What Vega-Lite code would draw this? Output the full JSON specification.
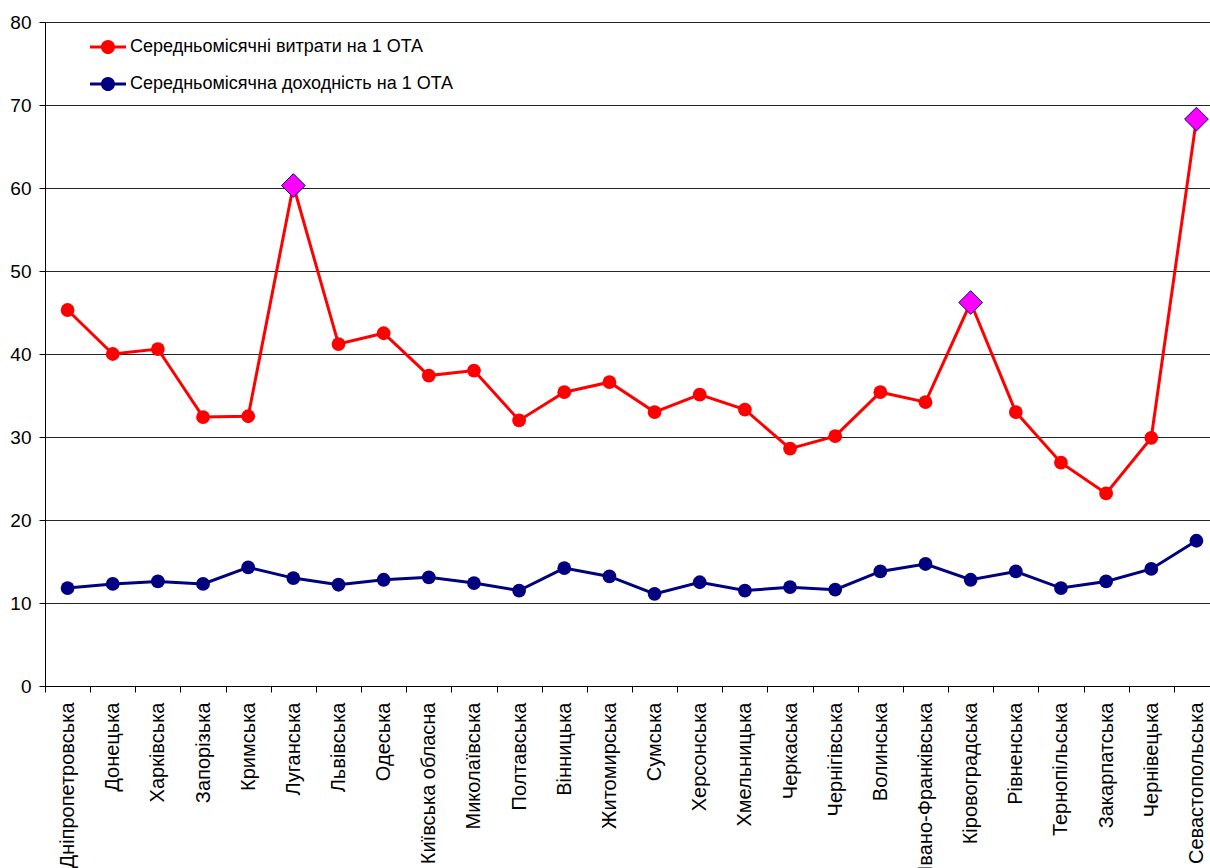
{
  "$schema": "https://vega.github.io/schema/vega-lite/v6.json",
  "autosize": {"type": "none"},
  "padding": {"left": 45, "top": 22, "right": 0, "bottom": 182},
  "width": 1174,
  "height": 664,
  "background": "white",
  "config": {
    "font": "Liberation Sans",
    "view": {"stroke": null},
    "axis": {"labelFont": "Liberation Sans", "labelColor": "#000000", "domainColor": "#000000", "tickColor": "#000000"}
  },
  "data": {
    "values": [
      {"region": "Дніпропетровська", "series": "Середньомісячні витрати на 1 ОТА", "value": 45.3},
      {"region": "Донецька", "series": "Середньомісячні витрати на 1 ОТА", "value": 40.0},
      {"region": "Харківська", "series": "Середньомісячні витрати на 1 ОТА", "value": 40.6},
      {"region": "Запорізька", "series": "Середньомісячні витрати на 1 ОТА", "value": 32.4},
      {"region": "Кримська", "series": "Середньомісячні витрати на 1 ОТА", "value": 32.5},
      {"region": "Луганська", "series": "Середньомісячні витрати на 1 ОТА", "value": 60.3},
      {"region": "Львівська", "series": "Середньомісячні витрати на 1 ОТА", "value": 41.2},
      {"region": "Одеська", "series": "Середньомісячні витрати на 1 ОТА", "value": 42.5},
      {"region": "Київська обласна", "series": "Середньомісячні витрати на 1 ОТА", "value": 37.4},
      {"region": "Миколаївська", "series": "Середньомісячні витрати на 1 ОТА", "value": 38.0},
      {"region": "Полтавська", "series": "Середньомісячні витрати на 1 ОТА", "value": 32.0},
      {"region": "Вінницька", "series": "Середньомісячні витрати на 1 ОТА", "value": 35.4},
      {"region": "Житомирська", "series": "Середньомісячні витрати на 1 ОТА", "value": 36.6},
      {"region": "Сумська", "series": "Середньомісячні витрати на 1 ОТА", "value": 33.0},
      {"region": "Херсонська", "series": "Середньомісячні витрати на 1 ОТА", "value": 35.1},
      {"region": "Хмельницька", "series": "Середньомісячні витрати на 1 ОТА", "value": 33.3},
      {"region": "Черкаська", "series": "Середньомісячні витрати на 1 ОТА", "value": 28.6},
      {"region": "Чернігівська", "series": "Середньомісячні витрати на 1 ОТА", "value": 30.1},
      {"region": "Волинська", "series": "Середньомісячні витрати на 1 ОТА", "value": 35.4},
      {"region": "Івано-Франківська", "series": "Середньомісячні витрати на 1 ОТА", "value": 34.2},
      {"region": "Кіровоградська", "series": "Середньомісячні витрати на 1 ОТА", "value": 46.2},
      {"region": "Рівненська", "series": "Середньомісячні витрати на 1 ОТА", "value": 33.0},
      {"region": "Тернопільська", "series": "Середньомісячні витрати на 1 ОТА", "value": 26.9},
      {"region": "Закарпатська", "series": "Середньомісячні витрати на 1 ОТА", "value": 23.2},
      {"region": "Чернівецька", "series": "Середньомісячні витрати на 1 ОТА", "value": 29.9},
      {"region": "Севастопольська", "series": "Середньомісячні витрати на 1 ОТА", "value": 68.3},
      {"region": "Дніпропетровська", "series": "Середньомісячна доходність на 1 ОТА", "value": 11.8},
      {"region": "Донецька", "series": "Середньомісячна доходність на 1 ОТА", "value": 12.3},
      {"region": "Харківська", "series": "Середньомісячна доходність на 1 ОТА", "value": 12.6},
      {"region": "Запорізька", "series": "Середньомісячна доходність на 1 ОТА", "value": 12.3},
      {"region": "Кримська", "series": "Середньомісячна доходність на 1 ОТА", "value": 14.3},
      {"region": "Луганська", "series": "Середньомісячна доходність на 1 ОТА", "value": 13.0},
      {"region": "Львівська", "series": "Середньомісячна доходність на 1 ОТА", "value": 12.2},
      {"region": "Одеська", "series": "Середньомісячна доходність на 1 ОТА", "value": 12.8},
      {"region": "Київська обласна", "series": "Середньомісячна доходність на 1 ОТА", "value": 13.1},
      {"region": "Миколаївська", "series": "Середньомісячна доходність на 1 ОТА", "value": 12.4},
      {"region": "Полтавська", "series": "Середньомісячна доходність на 1 ОТА", "value": 11.5},
      {"region": "Вінницька", "series": "Середньомісячна доходність на 1 ОТА", "value": 14.2},
      {"region": "Житомирська", "series": "Середньомісячна доходність на 1 ОТА", "value": 13.2},
      {"region": "Сумська", "series": "Середньомісячна доходність на 1 ОТА", "value": 11.1},
      {"region": "Херсонська", "series": "Середньомісячна доходність на 1 ОТА", "value": 12.5},
      {"region": "Хмельницька", "series": "Середньомісячна доходність на 1 ОТА", "value": 11.5},
      {"region": "Черкаська", "series": "Середньомісячна доходність на 1 ОТА", "value": 11.9},
      {"region": "Чернігівська", "series": "Середньомісячна доходність на 1 ОТА", "value": 11.6},
      {"region": "Волинська", "series": "Середньомісячна доходність на 1 ОТА", "value": 13.8},
      {"region": "Івано-Франківська", "series": "Середньомісячна доходність на 1 ОТА", "value": 14.7},
      {"region": "Кіровоградська", "series": "Середньомісячна доходність на 1 ОТА", "value": 12.8},
      {"region": "Рівненська", "series": "Середньомісячна доходність на 1 ОТА", "value": 13.8},
      {"region": "Тернопільська", "series": "Середньомісячна доходність на 1 ОТА", "value": 11.8},
      {"region": "Закарпатська", "series": "Середньомісячна доходність на 1 ОТА", "value": 12.6},
      {"region": "Чернівецька", "series": "Середньомісячна доходність на 1 ОТА", "value": 14.1},
      {"region": "Севастопольська", "series": "Середньомісячна доходність на 1 ОТА", "value": 17.5}
    ]
  },
  "encoding": {
    "x": {
      "field": "region", "type": "nominal", "sort": null,
      "scale": {"type": "band", "paddingInner": 0, "paddingOuter": 0},
      "axis": {"title": null, "labelAngle": -90, "labelFontSize": 20, "labelOverlap": false, "labelLimit": 0, "tickBand": "extent", "tickSize": 6, "labelPadding": 10, "grid": false}
    },
    "y": {
      "field": "value", "type": "quantitative",
      "scale": {"domain": [0, 80], "nice": false},
      "axis": {"title": null, "values": [0, 10, 20, 30, 40, 50, 60, 70, 80], "labelFontSize": 19, "tickSize": 6, "labelPadding": 8, "grid": true, "gridColor": "#000000", "gridOpacity": 0.85, "gridWidth": 1}
    }
  },
  "layer": [
    {
      "mark": {"type": "line", "strokeWidth": 3, "point": {"filled": true, "size": 190, "opacity": 1}},
      "encoding": {
        "color": {
          "field": "series", "type": "nominal",
          "scale": {"domain": ["Середньомісячні витрати на 1 ОТА", "Середньомісячна доходність на 1 ОТА"], "range": ["#FF0000", "#000080"]},
          "legend": {
            "title": null, "orient": "none", "legendX": 45, "legendY": 7,
            "padding": 0, "rowPadding": 10, "labelFontSize": 18, "labelFont": "Liberation Sans", "labelColor": "#000000", "labelLimit": 0,
            "labelOffset": 4, "symbolSize": 1296, "symbolStrokeWidth": 0,
            "symbolType": "M-1,-0.085L-0.385,-0.085L-0.385,0.085L-1,0.085Z M0.385,-0.085L1,-0.085L1,0.085L0.385,0.085Z M0.39,0A0.39,0.39 0 1,1 -0.39,0A0.39,0.39 0 1,1 0.39,0Z"
          }
        }
      }
    },
    {
      "transform": [
        {"filter": {"field": "series", "equal": "Середньомісячні витрати на 1 ОТА"}},
        {"filter": {"field": "region", "oneOf": ["Луганська", "Кіровоградська", "Севастопольська"]}}
      ],
      "mark": {"type": "point", "shape": "diamond", "filled": true, "size": 560, "fill": "#FF00FF", "stroke": "#000080", "strokeWidth": 1, "opacity": 1}
    }
  ]
}
